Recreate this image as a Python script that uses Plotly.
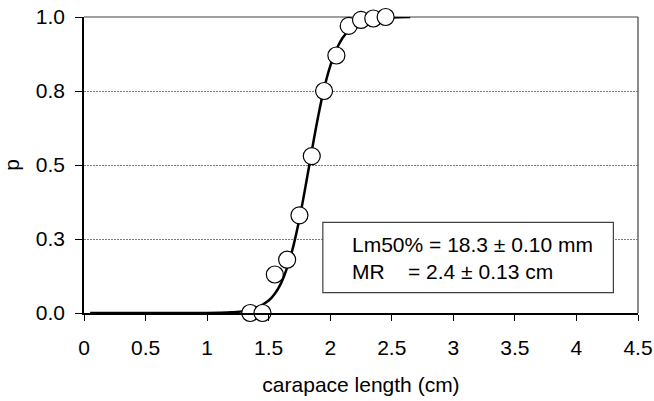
import plotly.graph_objects as go

# observed proportions mature by carapace length class
obs_x = [1.35, 1.45, 1.55, 1.65, 1.75, 1.85, 1.95, 2.05, 2.15, 2.25, 2.35, 2.45]
obs_p = [0.0, 0.0, 0.13, 0.18, 0.33, 0.53, 0.75, 0.87, 0.97, 0.99, 0.995, 1.0]

# fitted curve
fit_x = [0.05, 0.5, 1.0, 1.1, 1.2, 1.3, 1.4, 1.5, 1.55, 1.6, 1.65, 1.7, 1.75, 1.8,
         1.85, 1.9, 1.95, 2.0, 2.05, 2.1, 2.15, 2.2, 2.3, 2.4, 2.5, 2.65]
fit_p = [0.0, 0.0, 0.0004, 0.001, 0.0025, 0.0064, 0.017, 0.042, 0.065, 0.10, 0.153,
         0.225, 0.318, 0.429, 0.547, 0.66, 0.758, 0.834, 0.89, 0.929, 0.954, 0.971,
         0.989, 0.9956, 0.998, 0.9996]

y_ticks = [0.0, 0.25, 0.5, 0.75, 1.0]
y_labels = ["0.0", "0.3", "0.5", "0.8", "1.0"]
x_ticks = [0, 0.5, 1, 1.5, 2, 2.5, 3, 3.5, 4, 4.5]
x_labels = ["0", "0.5", "1", "1.5", "2", "2.5", "3", "3.5", "4", "4.5"]

FONT = "Liberation Sans, Arial, sans-serif"
FS = 21

fig = go.Figure()
fig.add_trace(go.Scatter(x=fit_x, y=fit_p, mode="lines",
                         line=dict(color="black", width=2.5, shape="spline"),
                         cliponaxis=False, hoverinfo="skip", showlegend=False))
fig.add_trace(go.Scatter(x=obs_x, y=obs_p, mode="markers",
                         marker=dict(size=17, color="white",
                                     line=dict(color="black", width=1.2)),
                         cliponaxis=False, showlegend=False))

# results box
fig.add_shape(type="rect", xref="x", yref="y", x0=1.94, x1=4.30, y0=0.069, y1=0.306,
              line=dict(color="#404040", width=1.2), fillcolor="white", layer="above")
fig.add_annotation(xref="x", yref="y", x=2.16, y=0.185, xanchor="left", yanchor="middle",
                   align="left", showarrow=False,
                   text="Lm50% = 18.3 ± 0.10 mm<br>MR\u00a0\u00a0\u00a0\u00a0= 2.4 ± 0.13 cm",
                   font=dict(family=FONT, size=FS, color="black"))

# top and right frame
fig.add_shape(type="line", xref="paper", yref="paper", x0=0, x1=1, y0=1, y1=1,
              line=dict(color="#404040", width=1.2), layer="below")
fig.add_shape(type="line", xref="paper", yref="paper", x0=1, x1=1, y0=0, y1=1,
              line=dict(color="#404040", width=1.2), layer="below")

fig.update_layout(
    width=654, height=401,
    margin=dict(l=84, r=16, t=17, b=88),
    paper_bgcolor="white", plot_bgcolor="white",
    font=dict(family=FONT, size=FS, color="black"),
    xaxis=dict(range=[0, 4.5], tickvals=x_ticks, ticktext=x_labels,
               ticks="outside", ticklen=6, tickcolor="black", tickwidth=1.2,
               showline=True, linecolor="black", linewidth=1.5,
               showgrid=False, zeroline=False, automargin=False,
               ticklabelstandoff=9,
               title=dict(text="carapace length (cm)", standoff=19,
                          font=dict(size=FS))),
    yaxis=dict(range=[0, 1.0], tickvals=y_ticks, ticktext=y_labels,
               ticks="outside", ticklen=7, tickcolor="black", tickwidth=1.2,
               showline=True, linecolor="black", linewidth=1.5,
               showgrid=True, gridcolor="#7a7a7a", gridwidth=1, griddash="2px,1px",
               zeroline=False, automargin=False,
               ticklabelstandoff=6,
               title=dict(text="p", standoff=10, font=dict(size=FS))),
)

fig.write_html("out.html")
